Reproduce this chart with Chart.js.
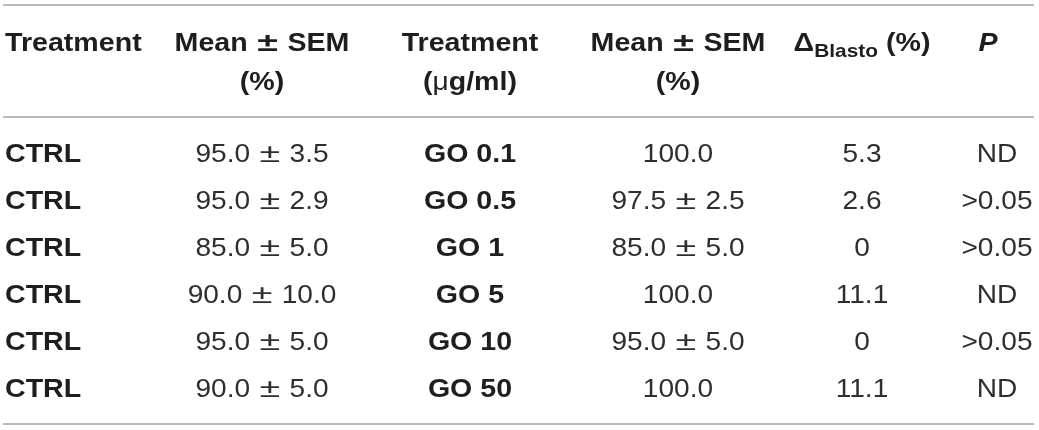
<!DOCTYPE html>
<html>
<head>
<meta charset="utf-8">
<title>GO treatment table</title>
<script src="https://cdn.jsdelivr.net/npm/chart.js@4.4.1/dist/chart.umd.min.js"></script>
<style>
  html, body { margin: 0; padding: 0; background: #fff; }
  #wrap { width: 1039px; height: 430px; }
</style>
</head>
<body>
<div id="wrap"><canvas id="table-canvas"></canvas></div>
<script>
// table values
var ctrlNames = ['CTRL', 'CTRL', 'CTRL', 'CTRL', 'CTRL', 'CTRL'];
var ctrlMean  = [95.0, 95.0, 85.0, 90.0, 95.0, 90.0];
var ctrlSem   = [3.5, 2.9, 5.0, 10.0, 5.0, 5.0];
var goDose    = ['0.1', '0.5', '1', '5', '10', '50'];
var goMean    = [100.0, 97.5, 85.0, 100.0, 95.0, 100.0];
var goSem     = [null, 2.5, 5.0, null, 5.0, null];
var deltaBlasto = [5.3, 2.6, 0, 11.1, 0, 11.1];
var pValues   = ['ND', '>0.05', '>0.05', 'ND', '>0.05', 'ND'];

// layout (x in px units, y in row units)
var colX     = [5, 262, 470, 678, 862, 997];
var colAlign = ['left', 'center', 'center', 'center', 'center', 'center'];
var headerRows = [-2.357, -1.518];
var ruleRows   = [-3.132, -0.754, 5.764];
var rowIdx = [0, 1, 2, 3, 4, 5];

var FAM  = '"Liberation Sans", Arial, Helvetica, sans-serif';
var BOLD = 'bold 26px ' + FAM;
var REG  = '26px ' + FAM;
var SUB  = 'bold 19px ' + FAM;
var ITAL = 'italic bold 26px ' + FAM;
var CAP_HALF = 9.3; // half cap height at 26px
var SP = '\u2004';

// glyphs in the source are a bit wider than Liberation Sans
function stretch(r) { return r.sx || (r.f === REG ? 1.08 : 1.1); }

function meanSem(m, s) {
  return s === null ? m.toFixed(1) : m.toFixed(1) + ' \u00b1 ' + s.toFixed(1);
}

// split a string so that the ± sign can be drawn wider, as in the source
function toRuns(text, font) {
  var parts = text.split(' \u00b1 ');
  if (parts.length === 1) return [{ t: text, f: font }];
  return [
    { t: parts[0] + SP, f: font },
    { t: '\u00b1', f: font, sx: 1.45 },
    { t: SP + parts[1], f: font }
  ];
}

var columns = [
  { cells: ctrlNames, font: BOLD },
  { cells: ctrlMean.map(function (m, i) { return meanSem(m, ctrlSem[i]); }), font: REG },
  { cells: goDose.map(function (d) { return 'GO ' + d; }), font: BOLD },
  { cells: goMean.map(function (m, i) { return meanSem(m, goSem[i]); }), font: REG },
  { cells: deltaBlasto.map(function (d) { return d === 0 ? '0' : d.toFixed(1); }), font: REG },
  { cells: pValues, font: REG }
];

var headers = [
  [toRuns('Treatment', BOLD), []],
  [toRuns('Mean \u00b1 SEM', BOLD), toRuns('(%)', BOLD)],
  [toRuns('Treatment', BOLD), [{ t: '(', f: BOLD }, { t: '\u03bc', f: REG }, { t: 'g/ml)', f: BOLD }]],
  [toRuns('Mean \u00b1 SEM', BOLD), toRuns('(%)', BOLD)],
  [[{ t: '\u0394', f: BOLD }, { t: 'Blasto', f: SUB, dy: 6.5 }, { t: ' (%)', f: BOLD }], []],
  [[{ t: 'P', f: ITAL, dx: -9 }], []]
];

function drawRuns(ctx, runs, x, cy, align) {
  if (!runs.length) return;
  var widths = runs.map(function (r) { ctx.font = r.f; return ctx.measureText(r.t).width * stretch(r); });
  var total = widths.reduce(function (a, b) { return a + b; }, 0);
  var px = align === 'left' ? x : x - total / 2;
  px += runs[0].dx || 0;
  runs.forEach(function (r, i) {
    ctx.save();
    ctx.font = r.f;
    ctx.translate(px, cy + CAP_HALF + (r.dy || 0));
    ctx.scale(stretch(r), 1);
    ctx.fillText(r.t, 0, 0);
    ctx.restore();
    px += widths[i];
  });
}

var tablePlugin = {
  id: 'tableText',
  afterDatasetsDraw: function (chart) {
    var ctx = chart.ctx, xs = chart.scales.x, ys = chart.scales.y;
    ctx.save();
    // horizontal rules
    ctx.strokeStyle = '#a3a3a3';
    ctx.lineWidth = 1.6;
    ruleRows.forEach(function (v) {
      var py = ys.getPixelForValue(v);
      ctx.beginPath();
      ctx.moveTo(xs.getPixelForValue(3), py);
      ctx.lineTo(xs.getPixelForValue(1034), py);
      ctx.stroke();
    });
    ctx.textBaseline = 'alphabetic';
    ctx.textAlign = 'left';
    // header
    ctx.fillStyle = '#1e1e1e';
    headers.forEach(function (lines, c) {
      lines.forEach(function (runs, li) {
        drawRuns(ctx, runs, xs.getPixelForValue(colX[c]), ys.getPixelForValue(headerRows[li]), colAlign[c]);
      });
    });
    // body cells, placed at each dataset point
    chart.data.datasets.forEach(function (ds, c) {
      var meta = chart.getDatasetMeta(c);
      ctx.fillStyle = ds.cellFont === BOLD ? '#1e1e1e' : '#2e2e2e';
      meta.data.forEach(function (pt, r) {
        drawRuns(ctx, toRuns(ds.cells[r], ds.cellFont), pt.x, pt.y, colAlign[c]);
      });
    });
    ctx.restore();
  }
};

var chart = new Chart(document.getElementById('table-canvas'), {
  type: 'scatter',
  data: {
    datasets: columns.map(function (col, c) {
      return {
        data: rowIdx.map(function (r) { return { x: colX[c], y: r }; }),
        cells: col.cells,
        cellFont: col.font,
        pointRadius: 0,
        pointHoverRadius: 0
      };
    })
  },
  options: {
    responsive: true,
    maintainAspectRatio: false,
    animation: false,
    layout: { padding: 0 },
    plugins: { legend: { display: false }, tooltip: { enabled: false } },
    events: [],
    scales: {
      x: { type: 'linear', display: false, min: 0, max: 1039 },
      y: { type: 'linear', display: false, reverse: true, min: -3.238, max: 5.892 }
    }
  },
  plugins: [tablePlugin]
});
</script>
</body>
</html>
